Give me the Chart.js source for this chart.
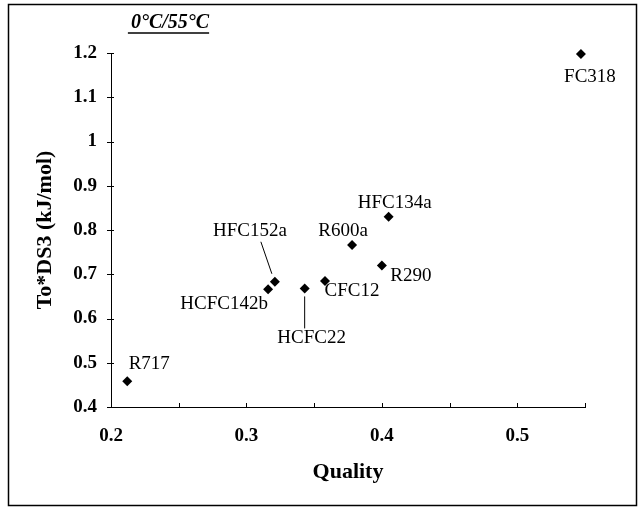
<!DOCTYPE html>
<html>
<head>
<meta charset="utf-8">
<script src="https://cdn.jsdelivr.net/npm/chart.js@4.4.1/dist/chart.umd.min.js"></script>
<style>
  html, body { margin: 0; padding: 0; background: #fff; }
  #wrap { width: 640px; height: 512px; position: relative; }
</style>
</head>
<body>
<div id="wrap"><canvas id="c" width="640" height="512"></canvas></div>
<script>
// ---- data ----
const refrigerants = ['FC318', 'HFC134a', 'R600a', 'R290', 'CFC12', 'HCFC22', 'HFC152a', 'HCFC142b', 'R717'];
const quality      = [0.547, 0.405, 0.378, 0.400, 0.358, 0.343, 0.321, 0.316, 0.212];
const toDS3        = [1.198, 0.830, 0.766, 0.720, 0.685, 0.668, 0.683, 0.666, 0.458];
const xTickValues  = [0.2, 0.3, 0.4, 0.5];
const yTickValues  = [0.4, 0.5, 0.6, 0.7, 0.8, 0.9, 1.0, 1.1, 1.2];
const titleText = '0°C/55°C';
const xTitle = 'Quality';
const yTitle = 'To*DS3 (kJ/mol)';

// ---- label layout (offsets from the point, in px) ----
const labelOffsets = {
  FC318: [9, 23], HFC134a: [6, -14], R600a: [-9, -14], R290: [29, 11],
  CFC12: [27, 10], HCFC22: [7, 50], HFC152a: [-25, -51], HCFC142b: [-44, 15], R717: [22, -17]
};
const leaders = {
  HFC152a: [[-14, -40], [-3, -8]],
  HCFC22: [[0, 8], [0, 40]]
};

const SERIF = '"Liberation Serif", "Times New Roman", Times, serif';

const extras = {
  id: 'extras',
  afterDraw(chart) {
    const ctx = chart.ctx;
    const xs = chart.scales.x, ys = chart.scales.y;
    ctx.save();
    // outer frame
    ctx.strokeStyle = '#000';
    ctx.lineWidth = 1.5;
    ctx.strokeRect(8.5, 4.5, 628, 501);
    // ticks
    ctx.lineWidth = 1;
    ctx.beginPath();
    xs.ticks.forEach(t => {
      const px = Math.round(xs.getPixelForValue(t.value)) + 0.5;
      ctx.moveTo(px, xs.top);
      ctx.lineTo(px, xs.top - 4);
    });
    ys.ticks.forEach(t => {
      const py = Math.round(ys.getPixelForValue(t.value)) + 0.5;
      ctx.moveTo(ys.right - 4, py);
      ctx.lineTo(ys.right + 3, py);
    });
    ctx.stroke();
    // title with underline
    ctx.fillStyle = '#000';
    ctx.font = 'italic bold 20px ' + SERIF;
    ctx.textAlign = 'center';
    ctx.textBaseline = 'middle';
    const tx = 170, ty = 23;
    ctx.fillText(titleText, tx, ty);
    const w = ctx.measureText(titleText).width;
    ctx.lineWidth = 1.5;
    ctx.beginPath();
    ctx.moveTo(tx - w / 2 - 3, 33);
    ctx.lineTo(tx + w / 2, 33);
    ctx.stroke();
    // point labels
    const meta = chart.getDatasetMeta(0);
    ctx.font = '19px ' + SERIF;
    ctx.lineWidth = 1;
    meta.data.forEach((el, i) => {
      const name = refrigerants[i];
      const off = labelOffsets[name] || [0, -15];
      ctx.fillText(name, el.x + off[0], el.y + off[1]);
      const ld = leaders[name];
      if (ld) {
        ctx.beginPath();
        ctx.moveTo(el.x + ld[0][0], el.y + ld[0][1]);
        ctx.lineTo(el.x + ld[1][0], el.y + ld[1][1]);
        ctx.stroke();
      }
    });
    ctx.restore();
  }
};

new Chart(document.getElementById('c'), {
  type: 'scatter',
  data: {
    datasets: [{
      data: quality.map((q, i) => ({ x: q, y: toDS3[i] })),
      pointStyle: 'rectRot',
      pointRadius: 5,
      pointHoverRadius: 5,
      backgroundColor: '#000',
      borderColor: '#000',
      borderWidth: 0,
      clip: false
    }]
  },
  plugins: [extras],
  options: {
    responsive: false,
    animation: false,
    events: [],
    layout: { padding: { left: 0, right: 55, top: 53, bottom: 0 } },
    plugins: { legend: { display: false }, tooltip: { enabled: false }, title: { display: false } },
    scales: {
      x: {
        type: 'linear',
        min: 0.2, max: 0.55,
        afterFit(s) { s.height = 105; },
        afterBuildTicks(s) {
          const arr = [];
          for (let k = 0; k <= 7; k++) arr.push({ value: Math.round((0.2 + k * 0.05) * 100) / 100 });
          s.ticks = arr;
        },
        ticks: {
          autoSkip: false,
          maxRotation: 0,
          padding: 18,
          color: '#000',
          font: { family: SERIF, size: 19, weight: 'bold' },
          callback(v) {
            const r = Math.round(v * 100) / 100;
            return xTickValues.some(t => Math.abs(t - r) < 1e-9) ? String(r) : '';
          }
        },
        grid: { display: true, drawOnChartArea: false, drawTicks: false },
        border: { display: true, color: '#000', width: 1 },
        title: {
          display: true, text: xTitle, color: '#000',
          font: { family: SERIF, size: 22, weight: 'bold' },
          padding: { top: 0, bottom: 26 }
        }
      },
      y: {
        type: 'linear',
        min: 0.4, max: 1.2,
        afterFit(s) { s.width = 111; },
        afterBuildTicks(s) { s.ticks = yTickValues.map(v => ({ value: v })); },
        ticks: {
          padding: 14,
          color: '#000',
          font: { family: SERIF, size: 19, weight: 'bold' },
          callback(v) { return String(Math.round(v * 10) / 10); }
        },
        grid: { display: true, drawOnChartArea: false, drawTicks: false },
        border: { display: true, color: '#000', width: 1 },
        title: {
          display: true, text: yTitle, color: '#000',
          font: { family: SERIF, size: 22, weight: 'bold' },
          padding: { top: 32, bottom: 0 }
        }
      }
    }
  }
});
</script>
</body>
</html>
